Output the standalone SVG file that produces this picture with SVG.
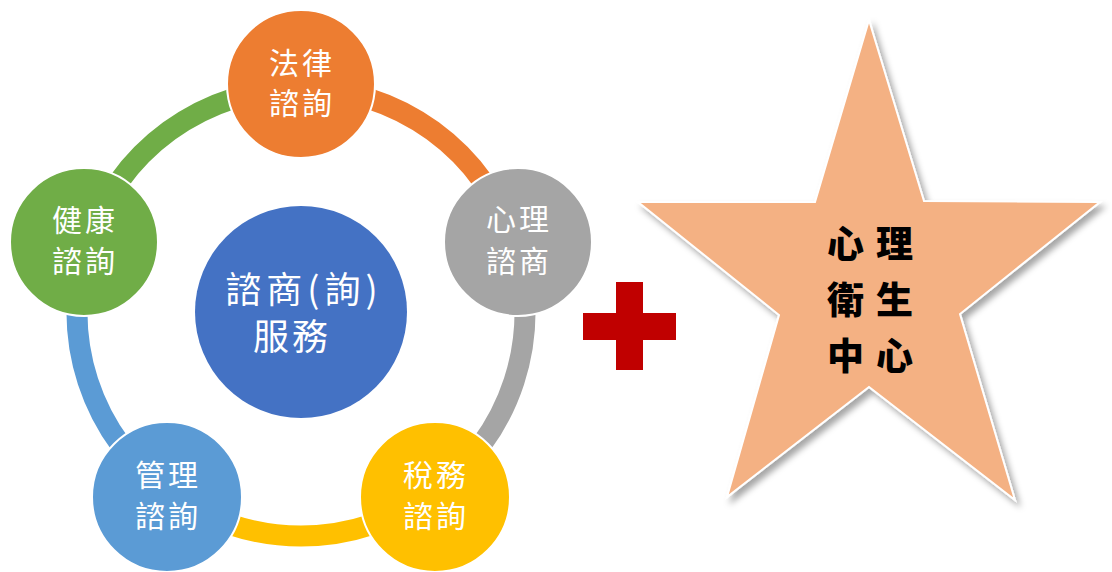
<svg xmlns="http://www.w3.org/2000/svg" width="1112" height="572" viewBox="0 0 1112 572">
<defs>
<style>
.lbl{font-family:"Noto Sans CJK TC","Noto Sans CJK SC",sans-serif;fill:#fff;font-size:30px;text-anchor:middle;letter-spacing:3px}
.ctr{font-family:"Noto Sans CJK TC","Noto Sans CJK SC",sans-serif;fill:#fff;font-size:36px;text-anchor:middle}
.star{font-family:"Noto Sans CJK TC","Noto Sans CJK SC",sans-serif;fill:#000;font-size:37px;font-weight:900;text-anchor:middle;letter-spacing:12px}
.arc{fill:none;stroke-width:21}
.node{stroke:#fff;stroke-width:2}
</style>
<filter id="sh" x="-10%" y="-10%" width="130%" height="130%">
<feDropShadow dx="4" dy="5" stdDeviation="3" flood-color="#000" flood-opacity="0.35"/>
</filter>
</defs>
<rect width="1112" height="572" fill="#fff"/>
<g id="connectors">
<path class="arc" stroke="#70AD47" d="M 87.9 242.8 A 224 224 0 0 1 301 88"/>
<path class="arc" stroke="#ED7D31" d="M 301 88 A 224 224 0 0 1 514.1 242.8"/>
<path class="arc" stroke="#A5A5A5" d="M 514.1 242.8 A 224 224 0 0 1 432.7 493.2"/>
<path class="arc" stroke="#FFC000" d="M 432.7 493.2 A 224 224 0 0 1 169.3 493.2"/>
<path class="arc" stroke="#5B9BD5" d="M 169.3 493.2 A 224 224 0 0 1 87.9 242.8"/>
</g>
<g id="center">
<circle cx="301" cy="312" r="106" fill="#4472C4"/>
<text class="ctr" x="304" y="303" letter-spacing="5">諮商(詢)</text>
<text class="ctr" x="292" y="350" letter-spacing="3">服務</text>
</g>
<g id="n-law">
<circle class="node" cx="301" cy="84" r="74" fill="#ED7D31"/>
<text class="lbl" x="302" y="74">法律</text>
<text class="lbl" x="302" y="114">諮詢</text>
</g>
<g id="n-psy">
<circle class="node" cx="518" cy="242" r="74" fill="#A5A5A5"/>
<text class="lbl" x="519" y="230">心理</text>
<text class="lbl" x="519" y="272">諮商</text>
</g>
<g id="n-tax">
<circle class="node" cx="435" cy="497" r="75" fill="#FFC000"/>
<text class="lbl" x="436" y="486">稅務</text>
<text class="lbl" x="436" y="527">諮詢</text>
</g>
<g id="n-mgmt">
<circle class="node" cx="167" cy="497" r="75" fill="#5B9BD5"/>
<text class="lbl" x="168" y="486">管理</text>
<text class="lbl" x="168" y="527">諮詢</text>
</g>
<g id="n-health">
<circle class="node" cx="84" cy="242" r="74" fill="#70AD47"/>
<text class="lbl" x="85" y="231">健康</text>
<text class="lbl" x="85" y="272">諮詢</text>
</g>
<g id="plus">
<rect x="616" y="282" width="27" height="88" fill="#C00000"/>
<rect x="583" y="313" width="93" height="27" fill="#C00000"/>
</g>
<g id="star">
<polygon points="869,20 924,201 1100,202 960,314 1015,500 869,387 727,497 779,315 638,202 815,202" fill="#F4B183" stroke="#fff" stroke-width="2" filter="url(#sh)"/>
<text class="star" x="876" y="258">心理</text>
<text class="star" x="876" y="314">衛生</text>
<text class="star" x="876" y="370">中心</text>
</g>
</svg>
